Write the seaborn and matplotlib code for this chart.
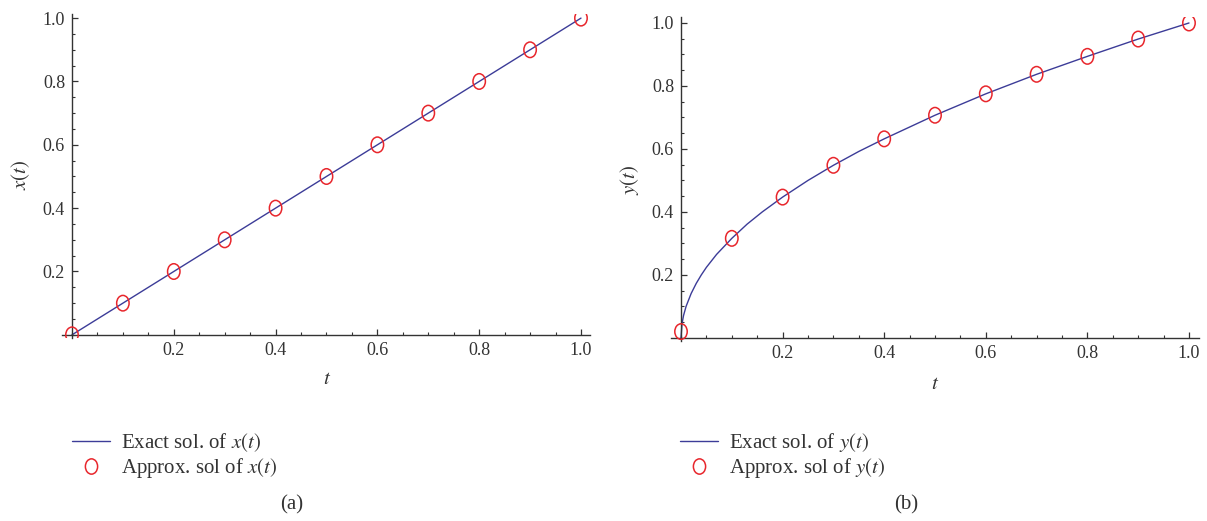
import numpy as np
import pandas as pd
import matplotlib
matplotlib.use('Agg')
import matplotlib.pyplot as plt
from matplotlib.path import Path
from matplotlib.transforms import Affine2D
from matplotlib.lines import Line2D
from matplotlib.ticker import MultipleLocator
import seaborn as sns

# Pontos da solucao aproximada (circulos)
t_pts = [0.0, 0.1, 0.2, 0.3, 0.4, 0.5, 0.6, 0.7, 0.8, 0.9, 1.0]
x_aprox = [0.0, 0.1, 0.2, 0.3, 0.4, 0.5, 0.6, 0.7, 0.8, 0.9, 1.0]
y_aprox = [0.02, 0.316, 0.447, 0.548, 0.632, 0.707, 0.775, 0.837, 0.894, 0.949, 1.0]

# Solucao exata
t_exato_x = [0.0, 1.0]
x_exato = [0.0, 1.0]
t_exato_y = [0.0, 0.002, 0.005, 0.01, 0.02, 0.03, 0.04, 0.05, 0.07, 0.1, 0.13,
             0.16, 0.2, 0.25, 0.3, 0.35, 0.4, 0.5, 0.6, 0.7, 0.8, 0.9, 1.0]
y_exato = [0.0, 0.045, 0.071, 0.1, 0.141, 0.173, 0.2, 0.224, 0.265, 0.316, 0.361,
           0.4, 0.447, 0.5, 0.548, 0.592, 0.632, 0.707, 0.775, 0.837, 0.894, 0.949, 1.0]

ticks = [0.2, 0.4, 0.6, 0.8, 1.0]
tick_labels = ['0.2', '0.4', '0.6', '0.8', '1.0']

sns.set_style('ticks')
plt.rcParams['font.family'] = ['Liberation Serif', 'DejaVu Serif']
plt.rcParams['mathtext.fontset'] = 'stix'

azul = '#3c3c98'
vermelho = '#e8262c'
cinza = '#333333'

# marcador eliptico (mais alto que largo)
elipse = Path.unit_circle().transformed(Affine2D().scale(0.8, 1.0))

fig = plt.figure(figsize=(12.07, 5.21), dpi=100)
ax1 = fig.add_axes([62/1207, (521-338)/521, 528/1207, 324/521])
ax2 = fig.add_axes([671/1207, (521-341)/521, 528/1207, 324/521])

paineis = [
    (ax1, t_exato_x, x_exato, x_aprox, 'x', (-0.0196, 1.0177), (-0.01, 1.013)),
    (ax2, t_exato_y, y_exato, y_aprox, 'y', (-0.0197, 1.0197), (-0.01, 1.019)),
]

for ax, te, ve, va, nome, xl, yl in paineis:
    sns.lineplot(x=te, y=ve, ax=ax, color=azul, linewidth=1.0, zorder=2)
    sns.scatterplot(x=t_pts, y=va, ax=ax, marker=elipse, s=125,
                    facecolor='none', edgecolor=vermelho, linewidth=1.1, zorder=3)
    ax.set_xlim(*xl)
    ax.set_ylim(*yl)
    for s in ['top', 'right']:
        ax.spines[s].set_visible(False)
    for s in ['left', 'bottom']:
        ax.spines[s].set_position(('data', 0))
        ax.spines[s].set_color(cinza)
        ax.spines[s].set_linewidth(1.0)
    ax.set_xticks(ticks)
    ax.set_xticklabels(tick_labels)
    ax.set_yticks(ticks)
    ax.set_yticklabels(tick_labels)
    ax.xaxis.set_minor_locator(MultipleLocator(0.05))
    ax.yaxis.set_minor_locator(MultipleLocator(0.05))
    ax.tick_params(which='major', direction='in', length=4.5, width=0.9,
                   color=cinza, labelcolor=cinza, labelsize=13, pad=5)
    ax.tick_params(which='minor', direction='in', length=2.5, width=0.8, color=cinza)
    ax.set_xlabel('$t$', fontsize=15, color=cinza)
    ax.set_ylabel('$%s(t)$' % nome, fontsize=15, color=cinza)

ax1.xaxis.set_label_coords(0.502, -0.10)
ax1.yaxis.set_label_coords(-0.057, 0.503)
ax2.xaxis.set_label_coords(0.5, -0.106)
ax2.yaxis.set_label_coords(-0.056, 0.497)

# Legendas
for nome, x0, legenda_x in [('x', 72, 292), ('y', 680, 906)]:
    h = [Line2D([], [], color=azul, linewidth=1.0),
         Line2D([], [], linestyle='', marker=elipse, markersize=11,
                markerfacecolor='none', markeredgecolor=vermelho, markeredgewidth=1.1)]
    lab = ['Exact sol. of $%s(t)$' % nome, 'Approx. sol of $%s(t)$' % nome]
    fig.legend(h, lab, loc='upper left', bbox_to_anchor=(x0/1207, 1 - 431/521),
               frameon=False, fontsize=15, handlelength=1.8, handletextpad=0.55,
               borderpad=0, borderaxespad=0, labelspacing=0.12,
               labelcolor=cinza)
    fig.text(legenda_x/1207, 1 - 505/521, '(%s)' % ('a' if nome == 'x' else 'b'),
             ha='center', va='center', fontsize=15, color=cinza)

fig.savefig('out.png', dpi=100)
